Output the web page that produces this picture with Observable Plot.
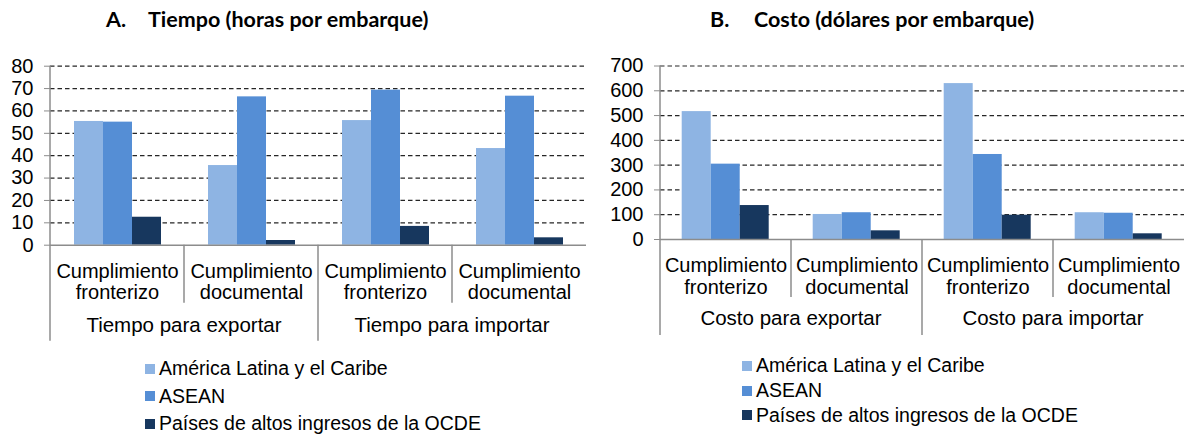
<!DOCTYPE html>
<html><head><meta charset="utf-8">
<script src="https://cdn.jsdelivr.net/npm/d3@7"></script>
<script src="https://cdn.jsdelivr.net/npm/@observablehq/plot@0.6"></script>
<style>
html,body{margin:0;padding:0;background:#fff;}
body{width:1184px;height:435px;overflow:hidden;position:relative;font-family:"Liberation Sans",Arial,sans-serif;color:#000;}
.title{position:absolute;top:9px;font-family:Lato,"Open Sans",sans-serif;font-weight:bold;font-size:21.5px;line-height:21px;white-space:nowrap;}
.panel{position:absolute;top:40px;}
.lrow{position:absolute;height:22px;display:flex;align-items:center;font-size:19.5px;white-space:nowrap;}
.sw{width:10px;height:10px;margin-right:4px;flex:none;}
</style></head>
<body>
<script>
// ---- data ----
const series = ["América Latina y el Caribe", "ASEAN", "Países de altos ingresos de la OCDE"];
const seriesColors = ["#8EB4E3", "#558ED5", "#17375E"];
const catKeys = ["EF", "ED", "IF", "ID"];
const catLabels = ["Cumplimiento\nfronterizo", "Cumplimiento\ndocumental", "Cumplimiento\nfronterizo", "Cumplimiento\ndocumental"];
const groupsA = ["Tiempo para exportar", "Tiempo para importar"];
const groupsB = ["Costo para exportar", "Costo para importar"];
const titleA = ["A.", "Tiempo (horas por embarque)"];
const titleB = ["B.", "Costo (dólares por embarque)"];

const tiempoALC   = [55.3, 35.6, 55.7, 43.2];
const tiempoASEAN = [55.0, 66.3, 69.3, 66.6];
const tiempoOCDE  = [12.5, 2.1, 8.4, 3.3];

const costoALC   = [516, 101, 629, 108];
const costoASEAN = [304, 108, 343, 106];
const costoOCDE  = [137, 35, 98, 23];

const yTicksA = [0, 10, 20, 30, 40, 50, 60, 70, 80];
const yTicksB = [0, 100, 200, 300, 400, 500, 600, 700];

const FONT = '"Liberation Sans", Arial, sans-serif';

function toRows(vals) {
  const rows = [];
  vals.forEach((arr, si) => arr.forEach((v, ci) => rows.push({cat: catKeys[ci], series: series[si], value: v})));
  return rows;
}

function makePanel(cfg) {
  const data = toRows(cfg.values);
  const chart = Plot.plot({
    width: cfg.width, height: cfg.height,
    marginLeft: cfg.marginLeft, marginRight: cfg.marginRight,
    marginTop: cfg.marginTop, marginBottom: cfg.marginBottom,
    style: {fontFamily: FONT, fontSize: "20px", color: "#000", background: "transparent", overflow: "visible"},
    fx: {domain: catKeys, padding: 0, label: null},
    x: {domain: series, paddingInner: 0, paddingOuter: 0.75, axis: null},
    y: {domain: [0, cfg.yTicks[cfg.yTicks.length - 1]], label: null},
    color: {domain: series, range: seriesColors},
    marks: [
      Plot.gridY(cfg.yTicks.filter(d => d > 0), {stroke: "#262626", strokeOpacity: 1, strokeDasharray: "4.5,3", strokeWidth: 1.2}),
      Plot.barY(data, {fx: "cat", x: "series", y: "value", fill: "series"}),
      Plot.ruleY([0], {stroke: "#8c8c8c", strokeWidth: 1.5}),
      Plot.axisY(cfg.yTicks, {anchor: "left", tickSize: 6, tickPadding: 11, stroke: "#8c8c8c", label: null}),
      Plot.axisFx({anchor: "bottom", tickSize: 0, tickPadding: 17, lineHeight: 1.09, tickFormat: k => catLabels[catKeys.indexOf(k)], label: null})
    ]
  });
  const fx = chart.scale("fx"), y = chart.scale("y");
  const lefts = catKeys.map(k => fx.apply(k));
  const bw = fx.bandwidth != null ? fx.bandwidth : (lefts[1] - lefts[0]);
  const right = lefts[3] + bw;
  const y0 = y.apply(0), yTop = y.apply(cfg.yTicks[cfg.yTicks.length - 1]);
  const svg = d3.select(chart.tagName.toLowerCase() === "svg" ? chart : chart.querySelector("svg"));
  const g = svg.append("g").attr("stroke", "#8c8c8c").attr("stroke-width", 1.5);
  // y-axis line and big group divider
  g.append("line").attr("x1", lefts[0]).attr("x2", lefts[0]).attr("y1", yTop).attr("y2", y0 + 96);
  g.append("line").attr("x1", lefts[2]).attr("x2", lefts[2]).attr("y1", y0).attr("y2", y0 + 96);
  // small category dividers
  [1, 3].forEach(i => g.append("line").attr("x1", lefts[i]).attr("x2", lefts[i]).attr("y1", y0).attr("y2", y0 + cfg.smallDiv));
  // group labels
  const centers = [(lefts[0] + lefts[2]) / 2, (lefts[2] + right) / 2];
  cfg.groups.forEach((t, i) => svg.append("text")
    .attr("x", centers[i]).attr("y", y0 + cfg.groupDy)
    .attr("text-anchor", "middle").attr("font-size", 20.5)
    .attr("font-family", FONT).attr("fill", "#000").text(t));
  const wrap = document.createElement("div");
  wrap.className = "panel";
  wrap.style.left = cfg.left + "px";
  wrap.appendChild(chart);
  document.body.appendChild(wrap);
}

function makeTitle(parts, leftA, leftT) {
  const a = document.createElement("div"); a.className = "title"; a.style.left = leftA + "px"; a.textContent = parts[0];
  const b = document.createElement("div"); b.className = "title"; b.style.left = leftT + "px"; b.textContent = parts[1];
  document.body.appendChild(a); document.body.appendChild(b);
}

function makeLegend(left, centersY) {
  series.forEach((s, i) => {
    const row = document.createElement("div");
    row.className = "lrow";
    row.style.left = left + "px";
    row.style.top = (centersY[i] - 11) + "px";
    const sw = document.createElement("span"); sw.className = "sw"; sw.style.background = seriesColors[i];
    const tx = document.createElement("span"); tx.textContent = s;
    row.appendChild(sw); row.appendChild(tx);
    document.body.appendChild(row);
  });
}

makeTitle(titleA, 106, 148);
makeTitle(titleB, 710, 754);

makePanel({values: [tiempoALC, tiempoASEAN, tiempoOCDE], yTicks: yTicksA, groups: groupsA,
  left: 0, width: 590, height: 305, marginLeft: 49, marginRight: 3.8, marginTop: 25.7, marginBottom: 100.3,
  smallDiv: 58, groupDy: 87});
makePanel({values: [costoALC, costoASEAN, costoOCDE], yTicks: yTicksB, groups: groupsB,
  left: 590, width: 594, height: 305, marginLeft: 69.3, marginRight: 0, marginTop: 25.5, marginBottom: 106,
  smallDiv: 58, groupDy: 86});

makeLegend(145, [368.5, 396, 423.5]);
makeLegend(742, [365.5, 390.5, 415]);
</script>
</body></html>
